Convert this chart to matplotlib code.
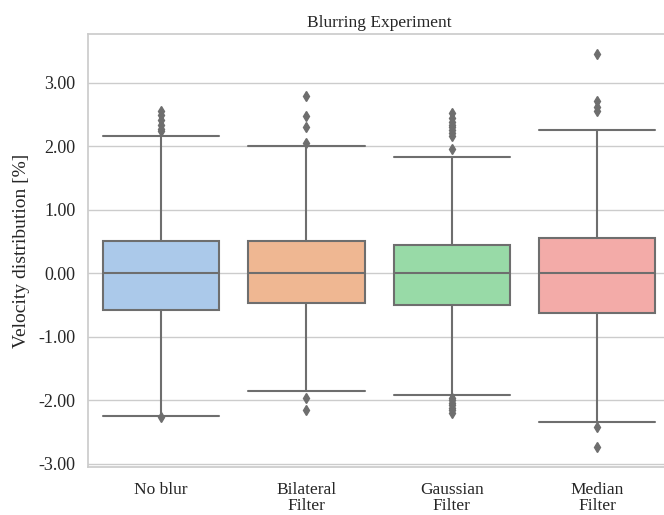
import matplotlib
matplotlib.use("Agg")
import matplotlib.pyplot as plt
import seaborn as sns

# box statistics
labels = ["No blur", "Bilateral\nFilter", "Gaussian\nFilter", "Median\nFilter"]
q1 = [-0.58, -0.46, -0.50, -0.62]
med = [0.0, 0.0, 0.0, 0.0]
q3 = [0.515, 0.51, 0.45, 0.56]
whis_lo = [-2.24, -1.85, -1.92, -2.34]
whis_hi = [2.16, 2.00, 1.84, 2.26]
fliers = [
    [2.55, 2.50, 2.42, 2.34, 2.28, 2.24, -2.27],
    [2.79, 2.48, 2.30, 2.05, -1.97, -2.16],
    [2.53, 2.45, 2.38, 2.34, 2.30, 2.26, 2.21, 2.16, 1.96,
     -1.96, -2.00, -2.04, -2.08, -2.12, -2.16, -2.20],
    [3.46, 2.71, 2.62, 2.55, -2.42, -2.74],
]

sns.set_theme(style="whitegrid")
plt.rcParams["font.family"] = ["Liberation Serif", "DejaVu Serif"]
plt.rcParams["font.size"] = 12.5

colors = [sns.desaturate(c, 0.75) for c in sns.color_palette("pastel")[:4]]
gray = "#6e6e6e"

fig = plt.figure(figsize=(6.64, 5.15), dpi=100)
ax = fig.add_axes([0.1331, 0.0932, 0.8755, 0.8408])

stats = []
for i in range(len(labels)):
    stats.append({"q1": q1[i], "med": med[i], "q3": q3[i],
                  "whislo": whis_lo[i], "whishi": whis_hi[i],
                  "fliers": fliers[i], "label": labels[i]})

bp = ax.bxp(stats, positions=range(4), widths=0.8, patch_artist=True,
            boxprops=dict(edgecolor=gray, linewidth=1.5),
            medianprops=dict(color=gray, linewidth=1.5),
            whiskerprops=dict(color=gray, linewidth=1.5),
            capprops=dict(color=gray, linewidth=1.5),
            flierprops=dict(marker="d", markerfacecolor=gray, markeredgecolor=gray,
                            markersize=5, linestyle="none"),
            capwidths=0.8)
for patch, c in zip(bp["boxes"], colors):
    patch.set_facecolor(c)

ax.set_xlim(-0.5, 3.5)
ax.set_yticks([-3, -2, -1, 0, 1, 2, 3])
ax.yaxis.set_major_formatter(matplotlib.ticker.FormatStrFormatter("%.2f"))
ax.xaxis.grid(False)
ax.set_xticks(range(4))
ax.set_xticklabels(labels, fontsize=12.5, linespacing=1.0)
ax.tick_params(axis="x", pad=5)
ax.tick_params(axis="both", labelsize=12.5, colors="#262626")
ax.tick_params(axis="y", labelsize=13)
ax.set_ylabel("Velocity distribution [%]", fontsize=14, labelpad=6)
ax.set_title("Blurring Experiment", fontsize=12.5, pad=5)
for s in ax.spines.values():
    s.set_color("#cccccc")
    s.set_linewidth(1.25)

fig.savefig("out.png", dpi=100)
